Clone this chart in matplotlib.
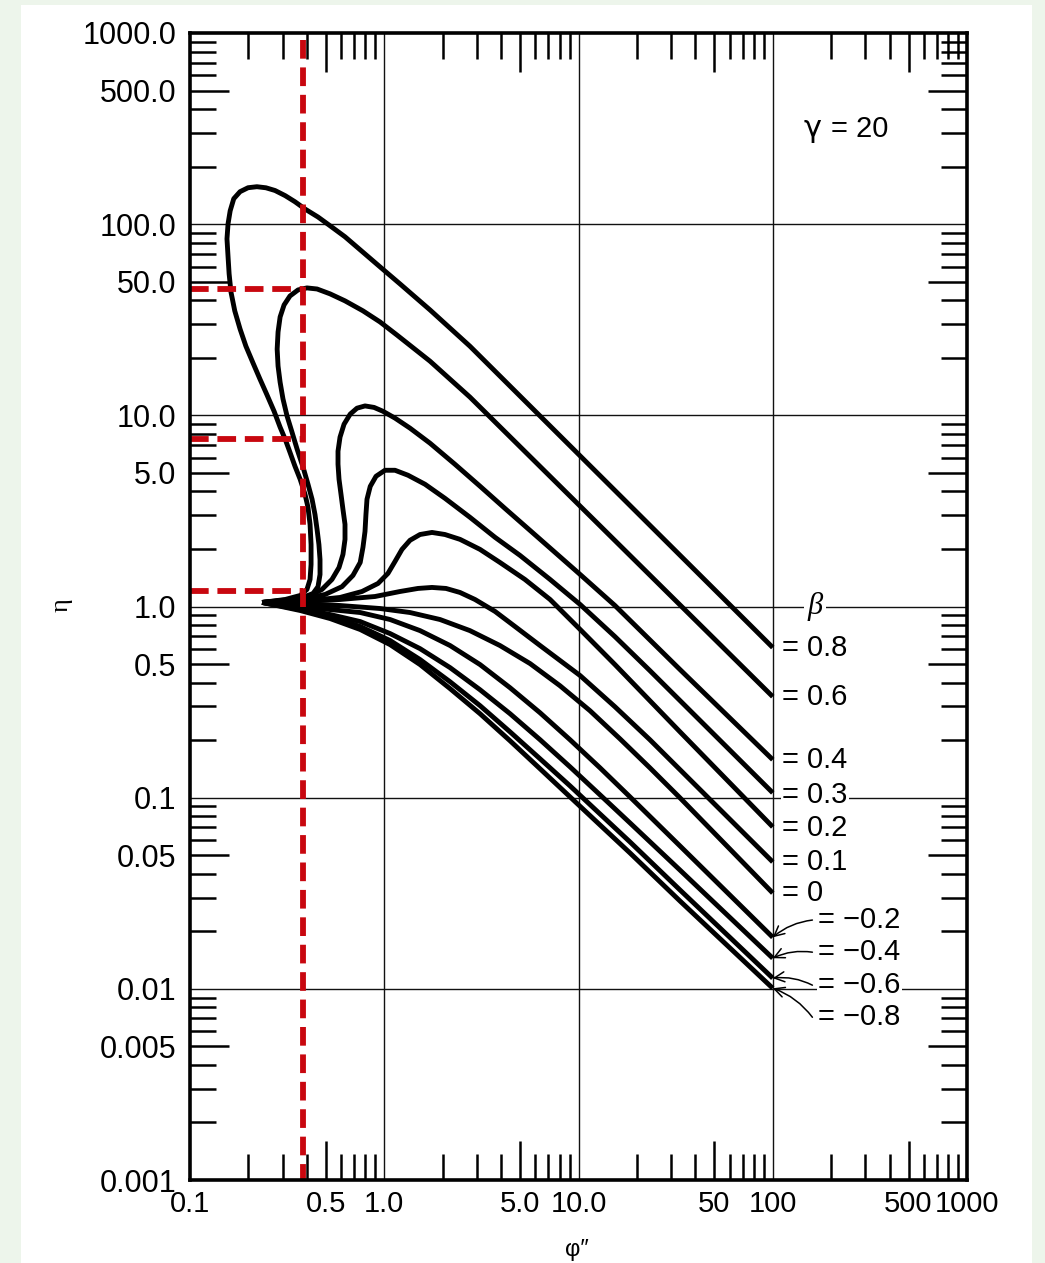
import matplotlib
matplotlib.use("Agg")
import matplotlib.pyplot as plt
from matplotlib.patches import Rectangle
from matplotlib.ticker import FixedLocator, FixedFormatter, LogLocator, NullFormatter

plt.rcParams["font.family"] = ["Liberation Sans", "DejaVu Sans"]

# ── Data (phi'', eta) ────────────────────────────────────────────────────────
phi_b08 = [0.235, 0.309, 0.369, 0.400, 0.415, 0.420, 0.420, 0.415, 0.405, 0.391,
           0.369, 0.347, 0.327, 0.309, 0.291, 0.271, 0.249, 0.229, 0.211, 0.194,
           0.181, 0.170, 0.1625, 0.159, 0.157, 0.155, 0.157, 0.161, 0.168, 0.181,
           0.199, 0.221, 0.246, 0.274, 0.309, 0.347, 0.391, 0.456, 0.526, 0.628,
           0.752, 0.951, 1.205, 1.72, 2.76, 100]
eta_b08 = [1.05, 1.088, 1.142, 1.228, 1.385, 1.66, 2.11, 2.69, 3.30, 3.86,
           4.63, 5.42, 6.41, 7.50, 8.67, 10.5, 12.8, 15.5, 18.8, 23.0,
           28.3, 35.2, 44.2, 55.0, 67.5, 83.8, 100.5, 117.5, 135.9, 147.9,
           155.1, 157, 155, 150, 141, 131, 120, 109, 98.1, 85.9,
           73.4, 59.8, 48.7, 35.6, 23.0, 0.61]

phi_b06 = [0.235, 0.309, 0.382, 0.430, 0.456, 0.467, 0.467, 0.461, 0.451, 0.440,
           0.425, 0.405, 0.382, 0.356, 0.335, 0.316, 0.301, 0.291, 0.284, 0.281,
           0.284, 0.291, 0.305, 0.327, 0.360, 0.400, 0.451, 0.526, 0.628, 0.777,
           0.951, 1.163, 1.72, 2.76, 100]
eta_b06 = [1.05, 1.075, 1.115, 1.170, 1.27, 1.47, 1.76, 2.11, 2.53, 3.03,
           3.64, 4.36, 5.35, 6.65, 8.17, 9.91, 12.2, 14.9, 18.1, 22.2,
           27.3, 32.7, 37.8, 42.1, 45.3, 46.4, 45.8, 43.2, 39.7, 35.2,
           30.8, 26.3, 19.2, 12.46, 0.3375]

phi_b04 = [0.235, 0.327, 0.415, 0.478, 0.538, 0.585, 0.613, 0.628, 0.628, 0.613,
           0.599, 0.585, 0.578, 0.578, 0.592, 0.621, 0.668, 0.724, 0.796, 0.886,
           0.985, 1.136, 1.357, 1.72, 2.31, 3.11, 4.18, 5.63, 7.57, 10.2,
           15.4, 33.3, 100]
eta_b04 = [1.05, 1.088, 1.142, 1.228, 1.385, 1.60, 1.873, 2.245, 2.69, 3.22,
           3.86, 4.63, 5.55, 6.49, 7.69, 8.99, 10.15, 10.9, 11.2, 11.0,
           10.5, 9.67, 8.57, 7.15, 5.55, 4.26, 3.26, 2.50, 1.919, 1.47,
           1.012, 0.468, 0.158]

phi_b03 = [0.235, 0.369, 0.496, 0.606, 0.690, 0.752, 0.777, 0.796, 0.805, 0.815,
           0.847, 0.907, 1.009, 1.136, 1.325, 1.621, 2.054, 2.76, 3.72, 5.00,
           7.14, 10.2, 15.4, 23.3, 100]
eta_b03 = [1.05, 1.088, 1.156, 1.27, 1.454, 1.70, 2.04, 2.47, 3.03, 3.64,
           4.25, 4.80, 5.16, 5.16, 4.86, 4.36, 3.68, 2.93, 2.30, 1.85,
           1.385, 1.024, 0.696, 0.462, 0.106]

phi_b02 = [0.235, 0.415, 0.592, 0.768, 0.929, 1.045, 1.136, 1.234, 1.357, 1.528,
           1.761, 2.054, 2.455, 3.11, 3.94, 5.30, 7.14, 10.2, 15.4, 33.3, 100]
eta_b02 = [1.05, 1.075, 1.115, 1.198, 1.32, 1.49, 1.72, 1.99, 2.22, 2.38,
           2.44, 2.38, 2.245, 1.99, 1.70, 1.385, 1.088, 0.758, 0.497, 0.221, 0.0703]

phi_b01 = [0.235, 0.369, 0.592, 0.896, 1.205, 1.492, 1.761, 2.079, 2.455, 2.933,
           3.72, 4.71, 6.34, 10.2, 15.4, 23.3, 100]
eta_b01 = [1.05, 1.062, 1.088, 1.128, 1.198, 1.243, 1.258, 1.243, 1.184, 1.088,
           0.942, 0.786, 0.625, 0.435, 0.299, 0.201, 0.0461]

phi_b0 = [0.235, 0.369, 0.592, 0.951, 1.357, 1.936, 2.76, 3.94, 5.63, 8.03,
          11.46, 16.36, 23.3, 33.3, 100]
eta_b0 = [1.05, 1.037, 1.012, 0.976, 0.930, 0.855, 0.748, 0.625, 0.503, 0.385,
          0.285, 0.203, 0.1433, 0.0998, 0.0317]

phi_neg = [0.235, 0.369, 0.526, 0.752, 1.071, 1.528, 2.181, 3.111, 4.44, 6.34,
           9.04, 12.9, 18.4, 33.3, 100]
eta_m02 = [1.05, 1.0, 0.964, 0.930, 0.855, 0.748, 0.625, 0.497, 0.376, 0.278,
           0.201, 0.1433, 0.101, 0.0559, 0.0186]
eta_m04 = [1.05, 0.976, 0.908, 0.834, 0.722, 0.602, 0.479, 0.367, 0.275, 0.201,
           0.145, 0.1035, 0.0738, 0.0418, 0.01446]
eta_m06 = [1.05, 0.964, 0.886, 0.786, 0.664, 0.528, 0.404, 0.303, 0.221, 0.1597,
           0.1153, 0.0822, 0.0587, 0.0329, 0.01137]
eta_m08 = [1.05, 0.953, 0.865, 0.758, 0.632, 0.497, 0.372, 0.275, 0.1985, 0.1416,
           0.101, 0.072, 0.0514, 0.0288, 0.01007]

curves = [
    (phi_b08, eta_b08), (phi_b06, eta_b06), (phi_b04, eta_b04),
    (phi_b03, eta_b03), (phi_b02, eta_b02), (phi_b01, eta_b01),
    (phi_b0, eta_b0), (phi_neg, eta_m02), (phi_neg, eta_m04),
    (phi_neg, eta_m06), (phi_neg, eta_m08),
]

# beta labels at the right end
pos_labels = ["= 0.8", "= 0.6", "= 0.4", "= 0.3", "= 0.2", "= 0.1", "= 0"]
pos_label_eta = [0.61, 0.3375, 0.158, 0.1035, 0.0695, 0.0461, 0.0317]
neg_labels = ["= \u22120.2", "= \u22120.4", "= \u22120.6", "= \u22120.8"]
neg_label_eta = [0.0229, 0.01555, 0.01045, 0.0071]
neg_end_eta = [0.0186, 0.01446, 0.01137, 0.01007]

# red guide lines
guide_phi = 0.382
guide_eta = [45.8, 7.5, 1.2]

x_major = [0.1, 0.5, 1, 5, 10, 50, 100, 500, 1000]
x_labels = ["0.1", "0.5", "1.0", "5.0", "10.0", "50", "100", "500", "1000"]
y_major = [0.001, 0.005, 0.01, 0.05, 0.1, 0.5, 1, 5, 10, 50, 100, 500, 1000]
y_labels = ["0.001", "0.005", "0.01", "0.05", "0.1", "0.5", "1.0", "5.0",
            "10.0", "50.0", "100.0", "500.0", "1000.0"]
decades = [1, 10, 100]
eta_decades = [0.01, 0.1, 1, 10, 100]

# ── Figure ───────────────────────────────────────────────────────────────────
fig = plt.figure(figsize=(10.45, 12.63), dpi=100, facecolor="#edf5eb")
fig.patches.append(Rectangle((0.020, 0.0), 0.968, 0.996, transform=fig.transFigure,
                             facecolor="white", edgecolor="none", zorder=-10))
ax = fig.add_axes([190 / 1045, 1 - 1180 / 1263, 777 / 1045, 1147 / 1263])
ax.set_facecolor("white")
ax.set_xscale("log")
ax.set_yscale("log")
ax.set_xlim(0.1, 1000)
ax.set_ylim(0.001, 1000)

for v in decades:
    ax.axvline(v, color="#111111", lw=1.0, zorder=1)
for v in eta_decades:
    ax.axhline(v, color="#111111", lw=1.0, zorder=1)

for phi, eta in curves:
    ax.plot(phi, eta, color="black", lw=3.5, solid_joinstyle="round",
            solid_capstyle="butt", zorder=3)

# red dashed guides
dash = (0, (3.2, 1.5))
ax.plot([guide_phi, guide_phi], [920, 0.001], color="#c8070f", lw=4.2,
        linestyle=dash, zorder=5)
for e in guide_eta:
    ax.plot([0.1, guide_phi], [e, e], color="#c8070f", lw=4.2,
            linestyle=dash, zorder=5)

# ticks
for axis, major, labels in [(ax.xaxis, x_major, x_labels), (ax.yaxis, y_major, y_labels)]:
    axis.set_major_locator(FixedLocator(major))
    axis.set_major_formatter(FixedFormatter(labels))
    axis.set_minor_locator(LogLocator(base=10, subs=[2, 3, 4, 6, 7, 8, 9], numticks=50))
    axis.set_minor_formatter(NullFormatter())

ax.tick_params(which="both", direction="in", top=True, right=True, width=1.8,
               colors="black")
ax.tick_params(which="major", length=28)
ax.tick_params(which="minor", length=19)
ax.tick_params(axis="x", pad=7, labelsize=21)
ax.tick_params(axis="y", pad=10, labelsize=22)

for tick, v in zip(ax.xaxis.get_major_ticks(), x_major):
    if v in (0.1, 1, 10, 100, 1000):
        tick.tick1line.set_visible(False)
        tick.tick2line.set_visible(False)
for tick, v in zip(ax.yaxis.get_major_ticks(), y_major):
    if v in (0.001, 0.01, 0.1, 1, 10, 100, 1000):
        tick.tick1line.set_visible(False)
        tick.tick2line.set_visible(False)

for s in ax.spines.values():
    s.set_linewidth(2.6)
    s.set_zorder(6)

# labels
box = dict(facecolor="white", edgecolor="none", pad=1.0)
for txt, e in zip(pos_labels, pos_label_eta):
    ax.text(111.6, e, txt, fontsize=21, ha="left", va="center", bbox=box, zorder=4)
for txt, e, end in zip(neg_labels, neg_label_eta, neg_end_eta):
    ax.text(171, e, txt, fontsize=21, ha="left", va="center", bbox=box, zorder=4)
    ax.annotate("", xy=(100, end), xytext=(160, e),
                arrowprops=dict(arrowstyle="->", lw=1.1, color="black",
                                shrinkA=0, shrinkB=0, mutation_scale=18,
                                connectionstyle="arc3,rad=0.15"), zorder=4)

ax.text(165, 1.0, "\u03b2", fontsize=22, ha="center", va="center", style="italic",
        family=["Liberation Serif", "DejaVu Serif"], bbox=dict(facecolor="white",
        edgecolor="none", pad=2.5), zorder=4)
ax.text(161, 316, "\u03b3", fontsize=22, ha="center", va="center", family=["DejaVu Sans"])
ax.text(200, 316, "= 20", fontsize=21, ha="left", va="center")

fig.text(62 / 1045, 1 - 605 / 1263, "\u03b7", fontsize=19, rotation=90,
         ha="center", va="center", family=["Liberation Serif", "DejaVu Serif"])
fig.text(577 / 1045, 1 - 1250 / 1263, "\u03c6\u2033", fontsize=17,
         ha="center", va="center")

fig.savefig("out.png", dpi=100, facecolor=fig.get_facecolor())
